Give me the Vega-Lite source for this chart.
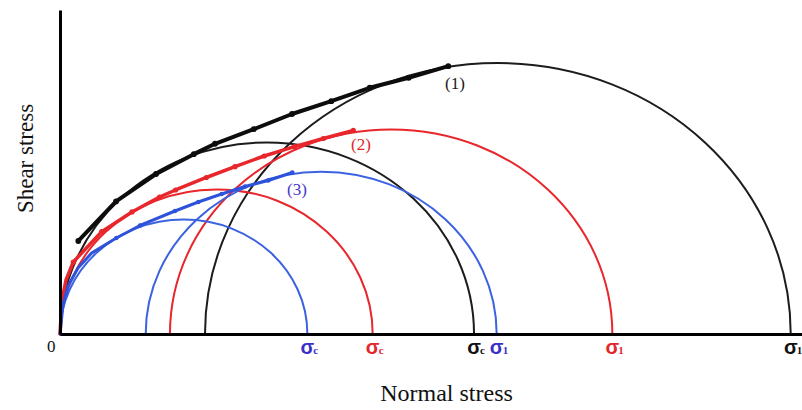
{
  "$schema": "https://vega.github.io/schema/vega-lite/v6.json",
  "width": 742,
  "height": 324,
  "autosize": {"type": "none"},
  "padding": {"left": 60, "top": 10, "right": 0, "bottom": 76},
  "background": "white",
  "config": {"view": {"stroke": null}, "font": "Liberation Serif"},
  "datasets": {
    "circles": [
      {"set": "1", "test": "uniaxial", "normal": 27.90, "shear": 0, "radius": 27.90},
      {"set": "1", "test": "triaxial", "normal": 59.01, "shear": 0, "radius": 39.47},
      {"set": "2", "test": "uniaxial", "normal": 21.07, "shear": 0, "radius": 21.07},
      {"set": "2", "test": "triaxial", "normal": 44.63, "shear": 0, "radius": 29.81},
      {"set": "3", "test": "uniaxial", "normal": 16.67, "shear": 0, "radius": 16.67},
      {"set": "3", "test": "triaxial", "normal": 35.20, "shear": 0, "radius": 23.65}
    ],
    "envelopes": [
      {"set": "1", "measured": true, "normal": 2.47, "shear": 13.55},
      {"set": "1", "measured": true, "normal": 7.55, "shear": 19.31},
      {"set": "1", "measured": true, "normal": 12.94, "shear": 23.31},
      {"set": "1", "measured": true, "normal": 18.03, "shear": 26.20},
      {"set": "1", "measured": true, "normal": 20.89, "shear": 27.71},
      {"set": "1", "measured": true, "normal": 26.11, "shear": 29.84},
      {"set": "1", "measured": true, "normal": 31.27, "shear": 32.05},
      {"set": "1", "measured": true, "normal": 36.56, "shear": 33.92},
      {"set": "1", "measured": true, "normal": 41.74, "shear": 35.87},
      {"set": "1", "measured": true, "normal": 46.99, "shear": 37.33},
      {"set": "1", "measured": true, "normal": 52.33, "shear": 39.02},
      {"set": "2", "measured": false, "normal": 0.0, "shear": 0.0},
      {"set": "2", "measured": false, "normal": 0.27, "shear": 4.95},
      {"set": "2", "measured": false, "normal": 0.81, "shear": 7.87},
      {"set": "2", "measured": true, "normal": 1.79, "shear": 10.49},
      {"set": "2", "measured": true, "normal": 5.62, "shear": 14.90},
      {"set": "2", "measured": true, "normal": 9.70, "shear": 17.78},
      {"set": "2", "measured": true, "normal": 13.41, "shear": 19.96},
      {"set": "2", "measured": true, "normal": 15.57, "shear": 20.98},
      {"set": "2", "measured": true, "normal": 19.72, "shear": 22.80},
      {"set": "2", "measured": true, "normal": 23.58, "shear": 24.38},
      {"set": "2", "measured": true, "normal": 27.53, "shear": 25.93},
      {"set": "2", "measured": true, "normal": 31.58, "shear": 27.29},
      {"set": "2", "measured": true, "normal": 35.49, "shear": 28.48},
      {"set": "2", "measured": true, "normal": 39.53, "shear": 29.65},
      {"set": "3", "measured": false, "normal": 0.0, "shear": 0.0},
      {"set": "3", "measured": false, "normal": 0.40, "shear": 4.23},
      {"set": "3", "measured": false, "normal": 1.08, "shear": 6.99},
      {"set": "3", "measured": false, "normal": 2.43, "shear": 9.62},
      {"set": "3", "measured": false, "normal": 4.27, "shear": 11.80},
      {"set": "3", "measured": true, "normal": 7.59, "shear": 13.99},
      {"set": "3", "measured": true, "normal": 10.78, "shear": 15.81},
      {"set": "3", "measured": true, "normal": 15.50, "shear": 17.92},
      {"set": "3", "measured": true, "normal": 18.64, "shear": 19.23},
      {"set": "3", "measured": true, "normal": 21.79, "shear": 20.40},
      {"set": "3", "measured": true, "normal": 24.93, "shear": 21.49},
      {"set": "3", "measured": true, "normal": 28.07, "shear": 22.36},
      {"set": "3", "measured": true, "normal": 31.31, "shear": 23.53}
    ],
    "stressLabels": [
      {"set": "3", "symbol": "σ", "sub": "c", "normal": 33.33, "shear": 0},
      {"set": "2", "symbol": "σ", "sub": "c", "normal": 42.14, "shear": 0},
      {"set": "1", "symbol": "σ", "sub": "c", "normal": 55.80, "shear": 0},
      {"set": "3", "symbol": "σ", "sub": "1", "normal": 58.85, "shear": 0},
      {"set": "2", "symbol": "σ", "sub": "1", "normal": 74.43, "shear": 0},
      {"set": "1", "symbol": "σ", "sub": "1", "normal": 98.48, "shear": 0}
    ],
    "curveLabels": [
      {"set": "1", "label": "(1)", "normal": 53.23, "shear": 36.35},
      {"set": "2", "label": "(2)", "normal": 40.57, "shear": 27.54},
      {"set": "3", "label": "(3)", "normal": 31.94, "shear": 21.05}
    ]
  },
  "encoding": {
    "x": {
      "field": "normal",
      "type": "quantitative",
      "scale": {"domain": [0, 100], "nice": false, "zero": true},
      "axis": {
        "title": "Normal stress",
        "titleFont": "Liberation Serif",
        "titleFontSize": 24,
        "titleFontWeight": "normal",
        "titleColor": "#111111",
        "titleX": 386,
        "titleY": 66,
        "titleAlign": "center",
        "titleBaseline": "alphabetic",
        "values": [0],
        "ticks": false,
        "grid": false,
        "domainColor": "#000000",
        "domainWidth": 3,
        "labelFont": "Liberation Serif",
        "labelFontSize": 17,
        "labelColor": "#111111",
        "labelAlign": "right",
        "labelOffset": -5,
        "labelPadding": 4,
        "zindex": 1
      }
    },
    "y": {
      "field": "shear",
      "type": "quantitative",
      "scale": {"domain": [0, 47.2], "nice": false, "zero": true},
      "axis": {
        "title": "Shear stress",
        "titleFont": "Liberation Serif",
        "titleFontSize": 23,
        "titleFontWeight": "normal",
        "titleColor": "#111111",
        "titleAngle": -90,
        "titleX": -28,
        "titleY": 148,
        "titleAlign": "center",
        "titleBaseline": "alphabetic",
        "ticks": false,
        "labels": false,
        "grid": false,
        "domainColor": "#000000",
        "domainWidth": 3,
        "zindex": 1
      }
    }
  },
  "layer": [
    {
      "data": {"name": "circles"},
      "mark": {
        "type": "point",
        "shape": "M-1,0A1,0.925,0,0,1,1,0",
        "filled": false,
        "opacity": 1,
        "strokeWidth": 2
      },
      "encoding": {
        "size": {
          "field": "radius",
          "type": "quantitative",
          "scale": {"type": "pow", "exponent": 2, "domain": [0, 100], "range": [0, 2202256], "nice": false},
          "legend": null
        },
        "color": {
          "field": "set",
          "type": "nominal",
          "scale": {"domain": ["1", "2", "3"], "range": ["#1c1c1c", "#e8262b", "#3b62e0"]},
          "legend": null
        }
      }
    },
    {
      "data": {"name": "envelopes"},
      "mark": {"type": "line", "strokeCap": "round", "strokeJoin": "round"},
      "encoding": {
        "color": {
          "field": "set",
          "type": "nominal",
          "scale": {"domain": ["1", "2", "3"], "range": ["#0d0d0d", "#e8262b", "#2f52da"]},
          "legend": null
        },
        "strokeWidth": {
          "field": "set",
          "type": "nominal",
          "scale": {"domain": ["1", "2", "3"], "range": [4, 3, 2.5]},
          "legend": null
        }
      }
    },
    {
      "data": {"name": "envelopes"},
      "transform": [{"filter": "datum.measured"}],
      "mark": {"type": "circle", "opacity": 1},
      "encoding": {
        "color": {
          "field": "set",
          "type": "nominal",
          "scale": {"domain": ["1", "2", "3"], "range": ["#0d0d0d", "#e8262b", "#2f52da"]},
          "legend": null
        },
        "size": {
          "field": "set",
          "type": "nominal",
          "scale": {"domain": ["1", "2", "3"], "range": [34, 20, 12]},
          "legend": null
        }
      }
    },
    {
      "data": {"name": "curveLabels"},
      "mark": {"type": "text", "fontSize": 17, "align": "center", "baseline": "middle", "font": "Liberation Serif"},
      "encoding": {
        "text": {"field": "label"},
        "color": {
          "field": "set",
          "type": "nominal",
          "scale": {"domain": ["1", "2", "3"], "range": ["#1a1a1a", "#e0282d", "#4a36c8"]},
          "legend": null
        }
      }
    },
    {
      "data": {"name": "stressLabels"},
      "mark": {"type": "text", "fontSize": 20, "fontWeight": "bold", "align": "center", "baseline": "alphabetic", "dy": 20, "font": "Liberation Sans"},
      "encoding": {
        "text": {"field": "symbol"},
        "color": {
          "field": "set",
          "type": "nominal",
          "scale": {"domain": ["1", "2", "3"], "range": ["#111111", "#e3262b", "#3a2fc6"]},
          "legend": null
        }
      }
    },
    {
      "data": {"name": "stressLabels"},
      "mark": {"type": "text", "fontSize": 11, "fontWeight": "bold", "align": "left", "baseline": "alphabetic", "dx": 6, "dy": 20, "font": "Liberation Serif"},
      "encoding": {
        "text": {"field": "sub"},
        "color": {
          "field": "set",
          "type": "nominal",
          "scale": {"domain": ["1", "2", "3"], "range": ["#111111", "#e3262b", "#3a2fc6"]},
          "legend": null
        }
      }
    }
  ],
  "resolve": {"scale": {"color": "independent", "size": "independent"}}
}
